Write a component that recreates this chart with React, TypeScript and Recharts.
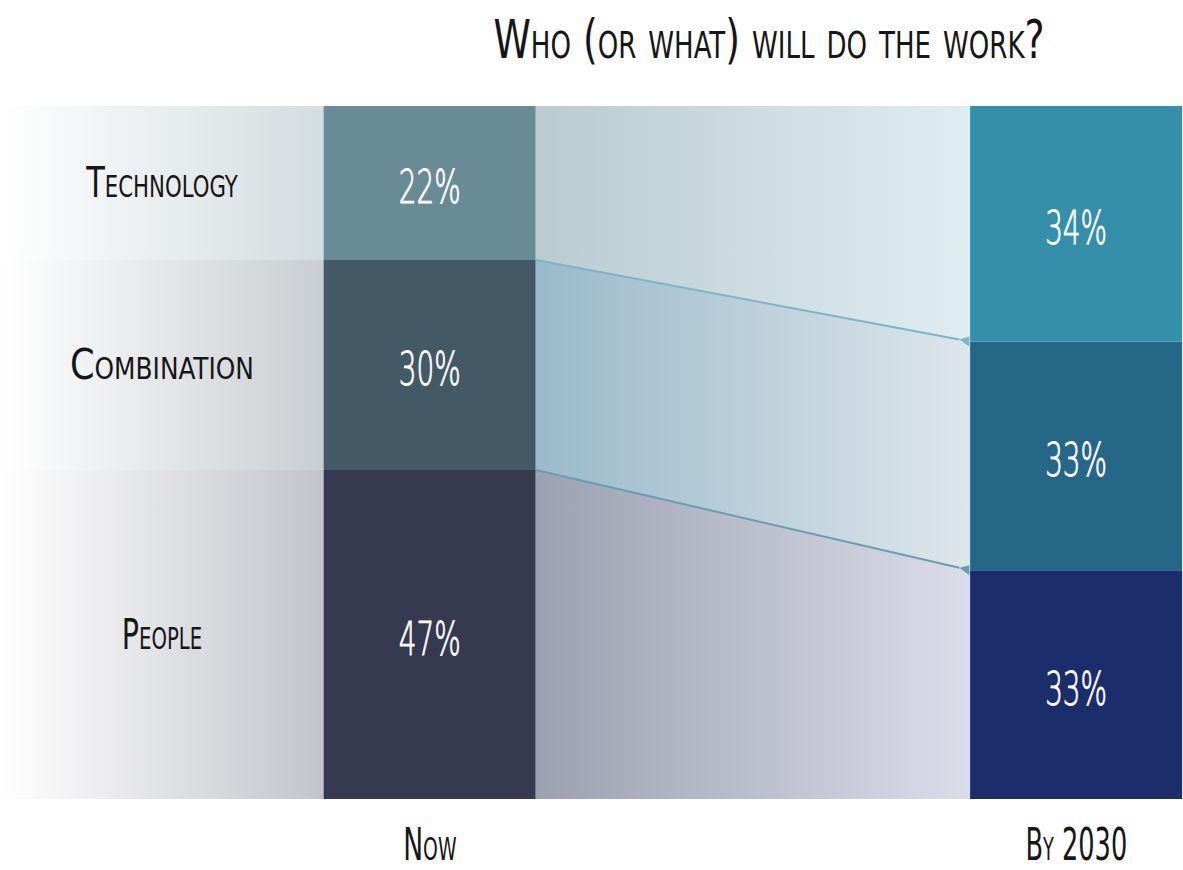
import React, { useLayoutEffect, useRef, useState } from 'react';
import * as R from 'recharts';

const { BarChart, Bar, XAxis, YAxis, Cell, LabelList, Customized } = R as any;

// ---- data ----
const PERIODS = ['Now', 'By 2030'];
const CATEGORIES = ['Technology', 'Combination', 'People'];
const TECHNOLOGY = [22, 34];
const COMBINATION = [30, 33];
const PEOPLE = [47, 33];
const TITLE = 'Who (or what) will do the work?';

const SERIES: Record<string, number[]> = {
  Technology: TECHNOLOGY,
  Combination: COMBINATION,
  People: PEOPLE,
};
// stacking order bottom -> top
const STACK = ['People', 'Combination', 'Technology'];

const data = PERIODS.map((p, i) => ({
  period: p,
  idx: i,
  Technology: TECHNOLOGY[i],
  Combination: COMBINATION[i],
  People: PEOPLE[i],
}));

// ---- layout / style ----
const W = 1183;
const H = 870;
const AXIS_H = 71;
const MARGIN = { top: 106, right: 0, bottom: 0, left: 0 };
const X_DOMAIN: [number, number] = [-0.665, 1.165];
const BAR_SIZE = 212;
const FONT = "'DejaVu Sans Condensed', 'Liberation Sans Narrow', 'DejaVu Sans', sans-serif";
const THIN_FONT = "'DejaVu Sans', sans-serif";

const COLORS: Record<string, string[]> = {
  Technology: ['#698b95', '#358fab'],
  Combination: ['#435966', '#266788'],
  People: ['#353a50', '#1b2d6b'],
};
const FLOW: Record<string, string[]> = {
  Technology: ['#b9cbd1', '#dfedf1'],
  Combination: ['#9ab9ca', '#dde6eb'],
  People: ['#9ba1b1', '#dcdce9'],
};
const BAND: Record<string, string> = {
  Technology: '#d3dcdf',
  Combination: '#c9ced2',
  People: '#c3c4cb',
};
const LABEL_W: Record<string, number> = { Technology: 153, Combination: 184, People: 82 };
const LINE_COLORS: Record<string, string> = { Combination: '#7db4c9', People: '#6c9bb3' };

// text squeezed horizontally to a target width
function FitText(props: any) {
  const { x, y, width, children, ...rest } = props;
  const ref = useRef<SVGTextElement>(null);
  const [sx, setSx] = useState(0.6);
  useLayoutEffect(() => {
    if (ref.current) {
      const n = ref.current.getComputedTextLength();
      if (n > 0) setSx(width / n);
    }
  }, [width, children]);
  return (
    <g transform={`translate(${x},${y}) scale(${sx},1)`}>
      <text ref={ref} x={0} y={0} textAnchor="middle" {...rest}>
        {children}
      </text>
    </g>
  );
}

function Overlay() {
  const hook = (R as any).usePlotArea;
  const pa = hook ? hook() : undefined;
  const left = pa?.x ?? MARGIN.left;
  const top = pa?.y ?? MARGIN.top;
  const width = pa?.width ?? W - MARGIN.left - MARGIN.right;
  const height = pa?.height ?? H - MARGIN.top - AXIS_H;
  const xs = (v: number) => left + ((v - X_DOMAIN[0]) / (X_DOMAIN[1] - X_DOMAIN[0])) * width;
  const ys = (f: number) => top + height * (1 - f);

  const bounds = PERIODS.map((_, i) => {
    const total = STACK.reduce((s, k) => s + SERIES[k][i], 0);
    let cum = 0;
    const res: Record<string, [number, number]> = {};
    STACK.forEach((k) => {
      const lo = cum;
      cum += SERIES[k][i];
      res[k] = [ys(cum / total), ys(lo / total)];
    });
    return res;
  });
  const nowLeft = xs(0) - BAR_SIZE / 2;
  const nowRight = xs(0) + BAR_SIZE / 2;
  const laterLeft = xs(1) - BAR_SIZE / 2;

  return (
    <g>
      <defs>
        {CATEGORIES.map((k) => (
          <linearGradient key={'f' + k} id={'flow-' + k} x1="0" y1="0" x2="1" y2="0">
            <stop offset="0%" stopColor={FLOW[k][0]} />
            <stop offset="100%" stopColor={FLOW[k][1]} />
          </linearGradient>
        ))}
        {CATEGORIES.map((k) => (
          <linearGradient key={'b' + k} id={'band-' + k} x1="0" y1="0" x2="1" y2="0">
            <stop offset="0%" stopColor="#ffffff" />
            <stop offset="100%" stopColor={BAND[k]} />
          </linearGradient>
        ))}
      </defs>
      {CATEGORIES.map((k) => {
        const [y0, y1] = bounds[0][k];
        return (
          <g key={'band' + k}>
            <rect x={0} y={y0} width={nowLeft} height={y1 - y0} fill={`url(#band-${k})`} />
            <FitText
              x={nowLeft / 2}
              y={(y0 + y1) / 2 + 14}
              width={LABEL_W[k]}
              fontFamily={FONT}
              fontSize={43}
              fill="#161616"
              style={{ fontVariant: 'small-caps' }}
            >
              {k}
            </FitText>
          </g>
        );
      })}
      {CATEGORIES.map((k) => {
        const [a0, a1] = bounds[0][k];
        const [b0, b1] = bounds[1][k];
        return (
          <polygon
            key={'flow' + k}
            points={`${nowRight},${a0} ${laterLeft},${b0} ${laterLeft},${b1} ${nowRight},${a1}`}
            fill={`url(#flow-${k})`}
          />
        );
      })}
      {['Combination', 'People'].map((k) => {
        const ya = bounds[0][k][0];
        const yb = bounds[1][k][0];
        const tipX = laterLeft - 11;
        const tipY = ya + ((yb - ya) * (tipX - nowRight)) / (laterLeft - nowRight);
        return (
          <g key={'line' + k}>
            <line x1={nowRight} y1={ya} x2={tipX} y2={tipY} stroke={LINE_COLORS[k]} strokeWidth={2} />
            <polygon
              points={`${tipX},${tipY} ${laterLeft - 1},${yb - 5} ${laterLeft - 1},${yb + 5}`}
              fill={LINE_COLORS[k]}
            />
          </g>
        );
      })}
      <FitText
        x={769}
        y={58}
        width={562}
        fontFamily={FONT}
        fontSize={53}
        fill="#161616"
        style={{ fontVariant: 'small-caps' }}
      >
        {TITLE}
      </FitText>
    </g>
  );
}

const PctLabel = (props: any) => {
  const { x, y, width, height, value } = props;
  return (
    <FitText
      x={x + width / 2}
      y={y + height / 2 + 20}
      width={62}
      fontFamily={THIN_FONT}
      fontWeight={200}
      fontSize={47}
      fill="#ffffff"
      stroke="#ffffff"
      strokeWidth={0.9}
    >
      {`${value}%`}
    </FitText>
  );
};

const PeriodTick = (props: any) => {
  const { x, y, payload } = props;
  const label = PERIODS[payload.value];
  return (
    <FitText
      x={x}
      y={y + 61}
      width={label === 'Now' ? 53 : 102}
      fontFamily={FONT}
      fontSize={45}
      fill="#161616"
      style={{ fontVariant: 'small-caps' }}
    >
      {label}
    </FitText>
  );
};

export default function App() {
  return (
    <div style={{ position: 'absolute', left: 0, top: 0, width: W, height: H, background: '#fff' }}>
      <BarChart width={W} height={H} data={data} margin={MARGIN} stackOffset="expand">
        <XAxis
          type="number"
          dataKey="idx"
          domain={X_DOMAIN}
          ticks={[0, 1]}
          interval={0}
          axisLine={false}
          tickLine={false}
          tickSize={0}
          tickMargin={0}
          height={AXIS_H}
          tick={(p: any) => <PeriodTick {...p} />}
        />
        <YAxis type="number" domain={[0, 1]} hide />
        <Customized component={<Overlay />} />
        {STACK.map((k) => (
          <Bar key={k} dataKey={k} stackId="a" barSize={BAR_SIZE} isAnimationActive={false}>
            {data.map((_, i) => (
              <Cell key={i} fill={COLORS[k][i]} />
            ))}
            <LabelList dataKey={k} content={(p: any) => <PctLabel {...p} />} />
          </Bar>
        ))}
      </BarChart>
    </div>
  );
}
